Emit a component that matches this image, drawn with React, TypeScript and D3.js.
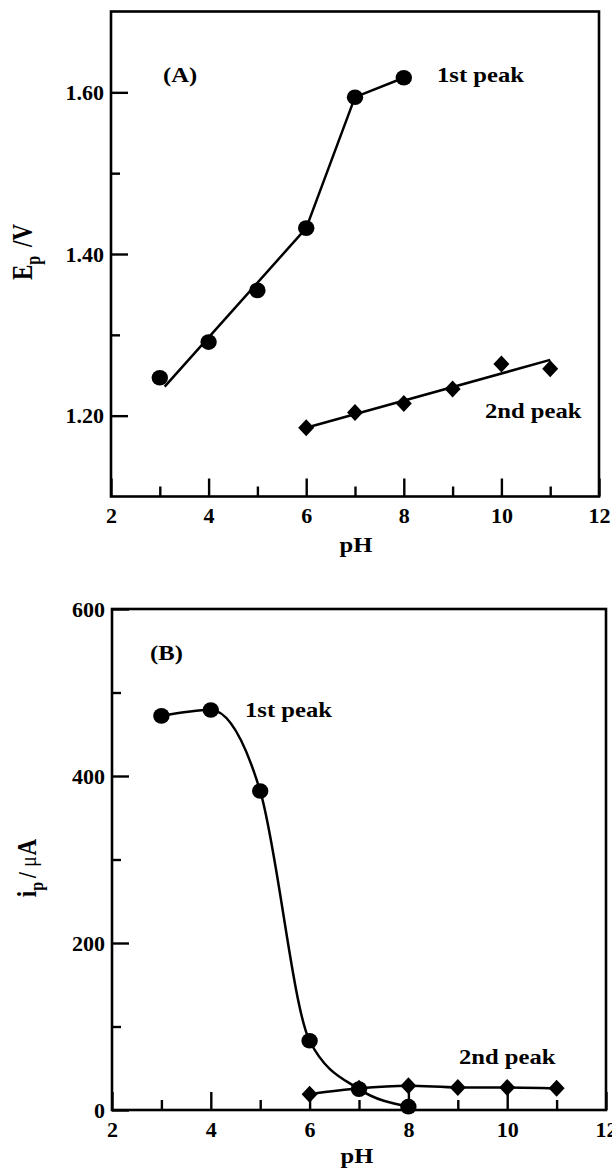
import React, { useEffect, useRef } from "react";
import * as d3 from "d3";

// panel A: peak potential vs pH
const phA1 = [3, 4, 5, 6, 7, 8];
const epA1 = [1.247, 1.291, 1.355, 1.432, 1.594, 1.618];
const phA2 = [6, 7, 8, 9, 10, 11];
const epA2 = [1.185, 1.204, 1.215, 1.233, 1.264, 1.258];
// drawn lines in panel A
const fitA1Ph = [3.1, 6, 7, 8];
const fitA1Ep = [1.236, 1.432, 1.594, 1.618];
const fitA2Ph = [6, 11];
const fitA2Ep = [1.185, 1.269];

// panel B: peak current vs pH
const phB1 = [3, 4, 5, 6, 7, 8];
const ipB1 = [472, 479, 382, 83, 25, 4];
const phB2 = [6, 7, 8, 9, 10, 11];
const ipB2 = [19, 26, 29, 27, 27, 26];

const xMajor = [2, 4, 6, 8, 10, 12];
const xMinor = [3, 5, 7, 9, 11];
const yMajorA = [1.2, 1.4, 1.6];
const yMinorA = [1.3, 1.5];
const yMajorB = [0, 200, 400, 600];
const yMinorB = [100, 300, 500];

const FONT = "'Liberation Serif', 'Times New Roman', Times, serif";

type Pt = [number, number];
const zip = (a: number[], b: number[]): Pt[] => a.map((v, i) => [v, b[i]]);

export default function App() {
  const ref = useRef<SVGSVGElement | null>(null);

  useEffect(() => {
    const svg = d3.select(ref.current);
    svg.selectAll("*").remove();

    const frame = (g: any, x: any, y: any) => {
      const [x0, x1] = x.range();
      const [y0, y1] = y.range();
      g.append("rect")
        .attr("x", x0).attr("y", y1)
        .attr("width", x1 - x0).attr("height", y0 - y1)
        .attr("fill", "none").attr("stroke", "#000").attr("stroke-width", 2.6);
    };

    const axes = (g: any, x: any, y: any, yMaj: number[], yMin: number[], yFmt: any) => {
      const [y0] = y.range();
      const [x0] = x.range();
      const style = (a: any) => {
        a.select(".domain").remove();
        a.selectAll(".tick line").attr("stroke-width", 2.4);
        a.attr("font-size", 22).attr("font-family", FONT).attr("font-weight", "bold");
      };
      g.append("g").attr("transform", `translate(0,${y0})`)
        .call(d3.axisBottom(x).tickValues(xMajor).tickSize(-18).tickSizeOuter(0).tickPadding(11).tickFormat(d3.format("d")))
        .call(style);
      g.append("g").attr("transform", `translate(0,${y0})`)
        .call(d3.axisBottom(x).tickValues(xMinor).tickSize(-10).tickSizeOuter(0).tickFormat(() => ""))
        .call(style);
      g.append("g").attr("transform", `translate(${x0},0)`)
        .call(d3.axisLeft(y).tickValues(yMaj).tickSize(-17).tickSizeOuter(0).tickPadding(7).tickFormat(yFmt))
        .call(style);
      g.append("g").attr("transform", `translate(${x0},0)`)
        .call(d3.axisLeft(y).tickValues(yMin).tickSize(-9).tickSizeOuter(0).tickFormat(() => ""))
        .call(style);
    };

    const label = (g: any, text: string, x: number, y: number) =>
      g.append("text")
        .attr("transform", `translate(${x},${y}) scale(1.12,1)`)
        .attr("font-family", FONT).attr("font-weight", "bold").attr("font-size", 22)
        .text(text);

    const xTitle = (g: any, x: number, y: number) =>
      g.append("text")
        .attr("transform", `translate(${x},${y}) scale(1.12,1)`)
        .attr("text-anchor", "middle")
        .attr("font-family", FONT).attr("font-weight", "bold").attr("font-size", 22)
        .text("pH");

    const circles = (g: any, pts: Pt[], x: any, y: any) =>
      g.selectAll(null).data(pts).join("ellipse")
        .attr("cx", (d: Pt) => x(d[0])).attr("cy", (d: Pt) => y(d[1]))
        .attr("rx", 8.2).attr("ry", 7.8).attr("fill", "#000");

    const diamonds = (g: any, pts: Pt[], x: any, y: any) =>
      g.selectAll(null).data(pts).join("path")
        .attr("transform", (d: Pt) => `translate(${x(d[0])},${y(d[1])})`)
        .attr("d", "M0,-8.5L8,0L0,8.5L-8,0Z").attr("fill", "#000");

    const path = (g: any, pts: Pt[], x: any, y: any, curve: any) =>
      g.append("path").datum(pts)
        .attr("d", d3.line<Pt>().x(d => x(d[0])).y(d => y(d[1])).curve(curve))
        .attr("fill", "none").attr("stroke", "#000").attr("stroke-width", 2.5);

    // ---- panel A
    const xA = d3.scaleLinear().domain([2, 12]).range([111, 599]);
    const yA = d3.scaleLinear().domain([1.1, 1.7]).range([496.5, 11.5]);
    const gA = svg.append("g");
    path(gA, zip(fitA1Ph, fitA1Ep), xA, yA, d3.curveLinear);
    path(gA, zip(fitA2Ph, fitA2Ep), xA, yA, d3.curveLinear);
    circles(gA, zip(phA1, epA1), xA, yA);
    diamonds(gA, zip(phA2, epA2), xA, yA);
    axes(gA, xA, yA, yMajorA, yMinorA, d3.format(".2f"));
    frame(gA, xA, yA);
    label(gA, "(A)", 163, 82);
    label(gA, "1st peak", 437, 82);
    label(gA, "2nd peak", 485, 418);
    xTitle(gA, 356, 552);
    const ylA = gA.append("text")
      .attr("transform", "translate(32,252) rotate(-90) scale(1,1.25)")
      .attr("text-anchor", "middle")
      .attr("font-family", FONT).attr("font-weight", "bold").attr("font-size", 23);
    ylA.append("tspan").text("E");
    ylA.append("tspan").attr("font-size", 16).attr("dy", 6).text("p");
    ylA.append("tspan").attr("dy", -6).attr("dx", 3).text(" /V");

    // ---- panel B
    const xB = d3.scaleLinear().domain([2, 12]).range([112, 606]);
    const yB = d3.scaleLinear().domain([0, 600]).range([1110, 609]);
    const gB = svg.append("g");
    path(gB, zip(phB1, ipB1), xB, yB, d3.curveMonotoneX);
    path(gB, zip(phB2, ipB2), xB, yB, d3.curveMonotoneX);
    circles(gB, zip(phB1, ipB1), xB, yB);
    diamonds(gB, zip(phB2, ipB2), xB, yB);
    axes(gB, xB, yB, yMajorB, yMinorB, d3.format("d"));
    frame(gB, xB, yB);
    label(gB, "(B)", 150, 660);
    label(gB, "1st peak", 245, 717);
    label(gB, "2nd peak", 459, 1064);
    xTitle(gB, 357, 1163);
    const ylB = gB.append("text")
      .attr("transform", "translate(36,868) rotate(-90) scale(1,1.2)")
      .attr("text-anchor", "middle")
      .attr("font-family", FONT).attr("font-weight", "bold").attr("font-size", 23);
    ylB.append("tspan").text("i");
    ylB.append("tspan").attr("font-size", 16).attr("dy", 6).text("p");
    ylB.append("tspan").attr("dy", -6).attr("dx", 4).attr("font-size", 21).text("/");
    ylB.append("tspan").attr("dx", 5).attr("font-size", 20).attr("font-weight", "normal").text("\u03bc");
    ylB.append("tspan").attr("dx", 1).attr("font-size", 23).text("A");
  }, []);

  return (
    <svg
      ref={ref}
      width={612}
      height={1171}
      style={{ position: "absolute", left: 0, top: 0, background: "#fff" }}
    />
  );
}
